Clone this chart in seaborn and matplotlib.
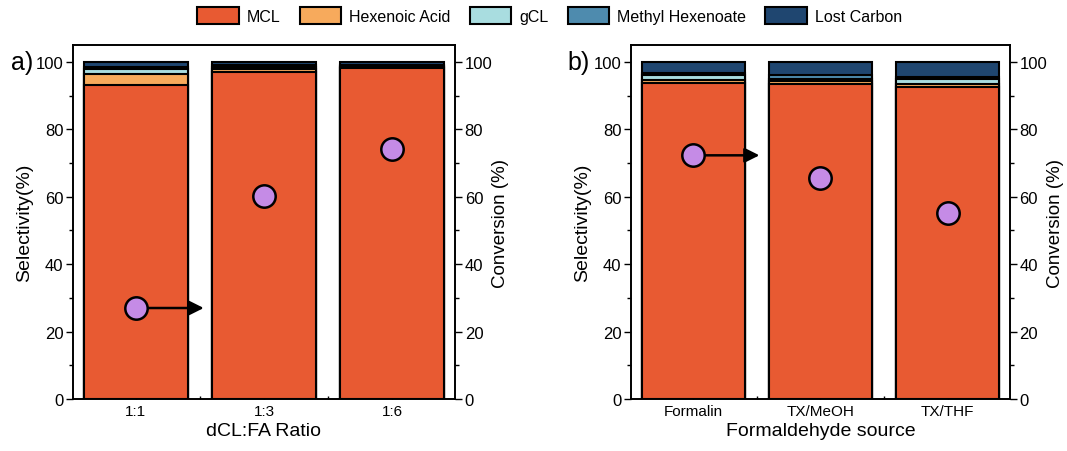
import numpy as np
import pandas as pd
import seaborn as sns
import matplotlib.pyplot as plt
from matplotlib.patches import Patch
from matplotlib.ticker import MultipleLocator

# Selectivity data (%), stacked from bottom
ratio_labels = ["1:1", "1:3", "1:6"]
ratio_mcl = [93.2, 97.0, 98.1]
ratio_hexenoic = [3.2, 1.0, 0.5]
ratio_gcl = [1.5, 0.5, 0.3]
ratio_methyl = [0.6, 0.5, 0.3]
ratio_lost = [1.5, 1.0, 0.8]
ratio_conversion = [27.0, 60.3, 74.3]

source_labels = ["Formalin", "TX/MeOH", "TX/THF"]
source_mcl = [93.7, 93.6, 92.6]
source_hexenoic = [1.0, 0.7, 1.0]
source_gcl = [1.3, 0.6, 1.2]
source_methyl = [0.6, 1.2, 0.6]
source_lost = [3.4, 3.9, 4.6]
source_conversion = [72.3, 65.7, 55.2]

series_names = ["MCL", "Hexenoic Acid", "gCL", "Methyl Hexenoate", "Lost Carbon"]
colors = ["#E85A32", "#F7AA5C", "#A9DDE0", "#4E8BAE", "#1F4670"]
point_color = "#C58BE6"

sns.set_theme(style="white")
plt.rcParams['font.family'] = ['Liberation Sans', 'DejaVu Sans']
plt.rcParams.update({"text.color": "black", "axes.labelcolor": "black",
                     "xtick.color": "black", "ytick.color": "black"})


def draw_panel(ax, labels, parts, conversion, xlabel, arrow_to):
    df = pd.DataFrame({"cat": labels})
    cum = np.cumsum(np.array(parts), axis=0)
    # draw cumulative totals from the top down so each layer covers the one above
    for i in range(len(parts) - 1, -1, -1):
        df["val"] = cum[i]
        sns.barplot(data=df, x="cat", y="val", ax=ax, color=colors[i],
                    saturation=1, width=0.81, edgecolor="black", linewidth=1.5)
    ax.set_xlim(-0.49, 2.49)
    ax.set_ylim(0, 105)
    ax.set_xlabel(xlabel, fontsize=14, labelpad=3)
    ax.set_ylabel("Selectivity(%)", fontsize=14, labelpad=2)
    ax.yaxis.set_major_locator(MultipleLocator(20))
    ax.yaxis.set_minor_locator(MultipleLocator(10))
    ax.xaxis.set_minor_locator(MultipleLocator(0.5))
    ax.tick_params(axis="y", which="both", direction="out", left=True, labelsize=12,
                   width=1, pad=2)
    ax.tick_params(axis="y", which="major", length=5)
    ax.tick_params(axis="y", which="minor", length=3)
    ax.tick_params(axis="x", which="both", direction="in", bottom=True, labelsize=11, width=1)
    ax.tick_params(axis="x", which="major", length=4)
    ax.tick_params(axis="x", which="minor", length=2)
    for s in ax.spines.values():
        s.set_color("black")
        s.set_linewidth(1.2)

    ax2 = ax.twinx()
    pts = pd.DataFrame({"x": np.arange(len(labels)), "conv": conversion})
    ax2.set_ylim(0, 105)
    ax2.set_xlim(-0.49, 2.49)
    ax2.annotate("", xy=(arrow_to, conversion[0]), xytext=(0, conversion[0]),
                 arrowprops=dict(arrowstyle="-|>", color="black", lw=1.8,
                                 mutation_scale=22, shrinkA=0, shrinkB=0))
    sns.scatterplot(data=pts, x="x", y="conv", ax=ax2, color=point_color, s=260,
                    edgecolor="black", linewidth=1.8, zorder=5)
    ax2.set_ylabel("Conversion (%)", fontsize=13.5, labelpad=0)
    ax2.set_xlabel(xlabel, fontsize=14, labelpad=3)
    ax2.yaxis.set_major_locator(MultipleLocator(20))
    ax2.yaxis.set_minor_locator(MultipleLocator(10))
    ax2.tick_params(axis="y", which="both", direction="out", right=True, labelsize=12,
                    width=1, pad=2)
    ax2.tick_params(axis="y", which="major", length=5)
    ax2.tick_params(axis="y", which="minor", length=3)
    for s in ax2.spines.values():
        s.set_color("black")
        s.set_linewidth(1.2)


fig = plt.figure(figsize=(10.67, 4.52), dpi=100)
ax_a = fig.add_axes([0.0684, 0.115, 0.358, 0.783])
ax_b = fig.add_axes([0.5914, 0.115, 0.355, 0.783])

draw_panel(ax_a, ratio_labels,
           [ratio_mcl, ratio_hexenoic, ratio_gcl, ratio_methyl, ratio_lost],
           ratio_conversion, "dCL:FA Ratio", 0.53)
draw_panel(ax_b, source_labels,
           [source_mcl, source_hexenoic, source_gcl, source_methyl, source_lost],
           source_conversion, "Formaldehyde source", 0.52)

fig.text(0.010, 0.845, "a)", fontsize=18)
fig.text(0.532, 0.845, "b)", fontsize=18)

handles = [Patch(facecolor=c, edgecolor="black", linewidth=1.5) for c in colors]
fig.legend(handles, series_names, loc="upper center", bbox_to_anchor=(0.515, 1.015),
           ncol=5, frameon=False, fontsize=11.5, handlelength=2.6, handleheight=1.3,
           columnspacing=1.2, handletextpad=0.5)

fig.savefig("out.png", dpi=100)
